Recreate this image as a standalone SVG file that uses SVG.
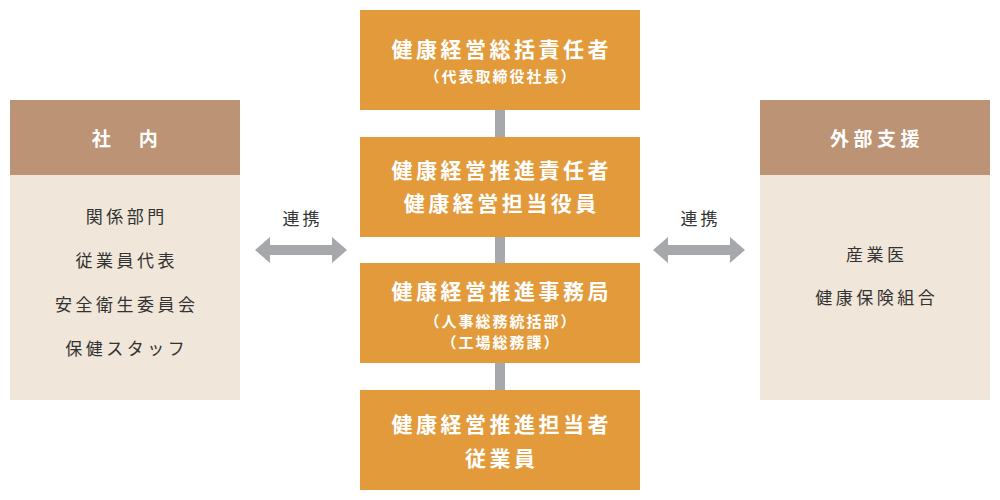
<svg xmlns="http://www.w3.org/2000/svg" width="1000" height="500" viewBox="0 0 1000 500">
<style>
.t{font-family:"Noto Sans CJK JP","Noto Sans",sans-serif;text-anchor:middle}
.box{fill:#E39A3B}
.hd{fill:#BC9374}
.bd{fill:#F0E6D9}
.w1{fill:#fff;font-size:21px;font-weight:700;letter-spacing:3.5px}
.w2{fill:#fff;font-size:15px;font-weight:700;letter-spacing:2px}
.h{fill:#fff;font-size:19px;font-weight:700;letter-spacing:4.5px}
.it{fill:#333;font-size:17px;letter-spacing:3.5px}
.lk{fill:#333;font-size:17px;letter-spacing:3px}
.arr{fill:#A7A8AB}
</style>
<rect width="1000" height="500" fill="#fff"/>
<g id="connectors">
<rect x="495" y="110" width="10" height="27" class="arr"/>
<rect x="495" y="237" width="10" height="26" class="arr"/>
<rect x="495" y="363" width="10" height="27" class="arr"/>
<polygon class="arr" points="255,250 270,237 270,245 332,245 332,237 347,250 332,263 332,255 270,255 270,263"/>
<polygon class="arr" points="653,250 668,237 668,245 730,245 730,237 745,250 730,263 730,255 668,255 668,263"/>
<text class="t lk" x="302.5" y="225">連携</text>
<text class="t lk" x="700.5" y="225">連携</text>
</g>
<g id="internal">
<rect x="10" y="100" width="230" height="75" class="hd"/>
<rect x="10" y="175" width="230" height="225" class="bd"/>
<text class="t h" x="127" y="146">社　内</text>
<text class="t it" x="126.75" y="223">関係部門</text>
<text class="t it" x="126.75" y="267">従業員代表</text>
<text class="t it" x="126.75" y="311">安全衛生委員会</text>
<text class="t it" x="126.75" y="355">保健スタッフ</text>
</g>
<g id="external">
<rect x="760" y="100" width="230" height="75" class="hd"/>
<rect x="760" y="175" width="230" height="225" class="bd"/>
<text class="t h" x="877" y="146">外部支援</text>
<text class="t it" x="876.75" y="261">産業医</text>
<text class="t it" x="876.75" y="304">健康保険組合</text>
</g>
<g id="box1">
<rect x="360" y="10" width="280" height="100" class="box"/>
<text class="t w1" x="501.75" y="57">健康経営総括責任者</text>
<text class="t w2" x="501" y="82">（代表取締役社長）</text>
</g>
<g id="box2">
<rect x="360" y="137" width="280" height="100" class="box"/>
<text class="t w1" x="501.75" y="178">健康経営推進責任者</text>
<text class="t w1" x="501.75" y="211">健康経営担当役員</text>
</g>
<g id="box3">
<rect x="360" y="263" width="280" height="100" class="box"/>
<text class="t w1" x="501.75" y="299">健康経営推進事務局</text>
<text class="t w2" x="501" y="327">（人事総務統括部）</text>
<text class="t w2" x="501" y="348">（工場総務課）</text>
</g>
<g id="box4">
<rect x="360" y="390" width="280" height="100" class="box"/>
<text class="t w1" x="501.75" y="432">健康経営推進担当者</text>
<text class="t w1" x="501.75" y="466">従業員</text>
</g>
</svg>
